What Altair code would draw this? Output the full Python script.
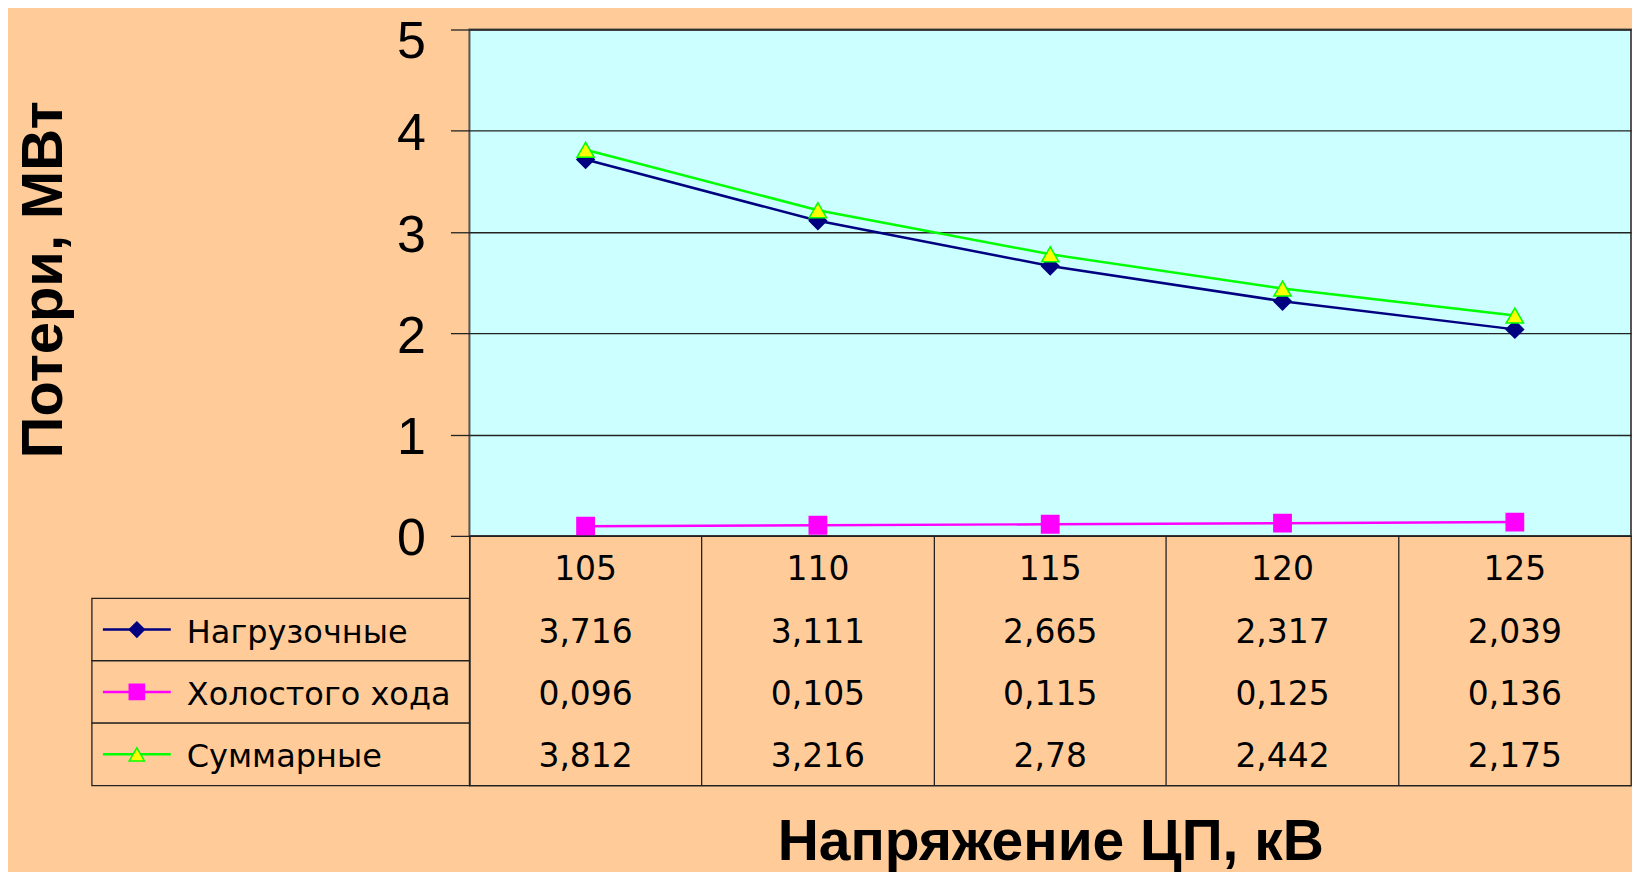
import altair as alt
import pandas as pd

# ---- data ----
voltages = ["105", "110", "115", "120", "125"]
series_names = ["Нагрузочные", "Холостого хода", "Суммарные"]
load_losses = [3.716, 3.111, 2.665, 2.317, 2.039]
noload_losses = [0.096, 0.105, 0.115, 0.125, 0.136]
total_losses = [3.812, 3.216, 2.78, 2.442, 2.175]
y_ticks = [0, 1, 2, 3, 4, 5]

# ---- styles ----
line_colors = ["#000080", "#FF00FF", "#00FF00"]
fill_colors = ["#000080", "#FF00FF", "#FFFF00"]
shapes = ["diamond", "square", "triangle-up"]
BG = "#FFCC99"
PLOT_BG = "#CCFFFF"
INK = "#222222"
W, H, TH = 1163, 507, 250

rows = []
for name, vals in zip(series_names, [load_losses, noload_losses, total_losses]):
    for u, v in zip(voltages, vals):
        rows.append({"U": u, "series": name, "value": v,
                     "label": str(v).replace(".", ",")})
df = pd.DataFrame(rows)

HDR = "hdr"
row_domain = [HDR] + series_names
hdr_df = pd.DataFrame({"U": voltages, "row": HDR, "label": voltages})
cells = pd.concat([hdr_df, df.rename(columns={"series": "row"})[["U", "row", "label"]]],
                  ignore_index=True)
legend_df = pd.DataFrame({"row": series_names, "series": series_names})

stroke_scale = alt.Scale(domain=series_names, range=line_colors)
fill_scale = alt.Scale(domain=series_names, range=fill_colors)
shape_scale = alt.Scale(domain=series_names, range=shapes)

# ---- plot ----
x_plot = alt.X("U:O", scale=alt.Scale(type="point", domain=voltages, padding=0.5), axis=None)
y_plot = alt.Y(
    "value:Q",
    scale=alt.Scale(domain=[0, 5], nice=False),
    axis=alt.Axis(values=y_ticks, grid=True, gridColor=INK, gridWidth=1.3,
                  tickColor=INK, tickSize=19, tickWidth=1.3, domain=False,
                  labelFontSize=52, labelFont="Liberation Sans", labelColor="black",
                  labelPadding=25, labelFlush=False,
                  labelOffset={"condition": {"test": "datum.value === 5", "value": 12},
                               "value": 3},
                  title="Потери, МВт", titleFont="Liberation Sans", titleFontSize=58,
                  titleFontWeight="bold", titleColor="black", titleAngle=-90,
                  titleBaseline="alphabetic", titleAlign="center",
                  titleX=-408, titleY=250),
)

lines = alt.Chart(df).mark_line(strokeWidth=2.5).encode(
    x=x_plot, y=y_plot,
    color=alt.Color("series:N", scale=stroke_scale, legend=None),
)
points = alt.Chart(df).mark_point(filled=True, size=300, strokeWidth=1.5, opacity=1).encode(
    x=x_plot, y=y_plot,
    shape=alt.Shape("series:N", scale=shape_scale, legend=None),
    fill=alt.Fill("series:N", scale=fill_scale, legend=None),
    stroke=alt.Stroke("series:N", scale=stroke_scale, legend=None),
)
plot = alt.layer(lines, points).properties(
    width=W, height=H,
    view=alt.ViewBackground(fill=PLOT_BG, stroke="#555555", strokeWidth=2),
)

# ---- data table ----
band = alt.Scale(type="band", domain=row_domain, paddingInner=0, paddingOuter=0)
x_tab = alt.X(
    "U:O",
    scale=alt.Scale(type="band", domain=voltages, paddingInner=0, paddingOuter=0),
    axis=alt.Axis(grid=True, bandPosition=0, gridColor=INK, gridWidth=1.3,
                  labels=False, ticks=False, domain=False,
                  title="Напряжение ЦП, кВ", titleFont="Liberation Sans", titleFontSize=57,
                  titleFontWeight="bold", titleColor="black", titleBaseline="alphabetic",
                  titleAlign="center", titleX=W / 2, titleY=74),
)
y_tab = alt.Y(
    "row:N", scale=band,
    axis=alt.Axis(grid=True, bandPosition=0, gridColor=INK, gridWidth=1.3,
                  labels=False, ticks=False, domain=False, title=None),
)
y_leg = alt.Y("row:N", bandPosition=0.5, scale=band, axis=None)
y_box = alt.Y("row:N", scale=band, axis=None)

cell_text = alt.Chart(cells).mark_text(font="DejaVu Sans", fontSize=33, color="black",
                                       baseline="middle", dy=3).encode(
    x=x_tab, y=y_tab, text="label:N")

legend_box = alt.Chart(legend_df).mark_rect(fill=BG, stroke=INK, strokeWidth=1.3).encode(
    x=alt.value(-378), x2=alt.value(0), y=y_box)
legend_line = alt.Chart(legend_df).mark_rule(strokeWidth=2.5).encode(
    x=alt.value(-367), x2=alt.value(-299), y=y_leg,
    color=alt.Color("series:N", scale=stroke_scale, legend=None))
legend_mark = alt.Chart(legend_df).mark_point(filled=True, size=230, strokeWidth=1.5,
                                              opacity=1).encode(
    x=alt.value(-333), y=y_leg,
    shape=alt.Shape("series:N", scale=shape_scale, legend=None),
    fill=alt.Fill("series:N", scale=fill_scale, legend=None),
    stroke=alt.Stroke("series:N", scale=stroke_scale, legend=None))
legend_text = alt.Chart(legend_df).mark_text(align="left", baseline="middle",
                                             font="DejaVu Sans", fontSize=32, dy=3,
                                             color="black").encode(
    x=alt.value(-283), y=y_leg, text="series:N")

table = alt.layer(cell_text, legend_box, legend_line, legend_mark, legend_text).properties(
    width=W, height=TH,
    view=alt.ViewBackground(stroke=INK, strokeWidth=1.3),
)

chart = alt.vconcat(plot, table, spacing=0, bounds="flush").properties(
    background=BG,
    padding={"left": 7, "top": 6, "right": 0, "bottom": 0},
).configure_view(strokeWidth=1.3)

chart.save("out.html", embed_options={"renderer": "svg", "actions": False})
